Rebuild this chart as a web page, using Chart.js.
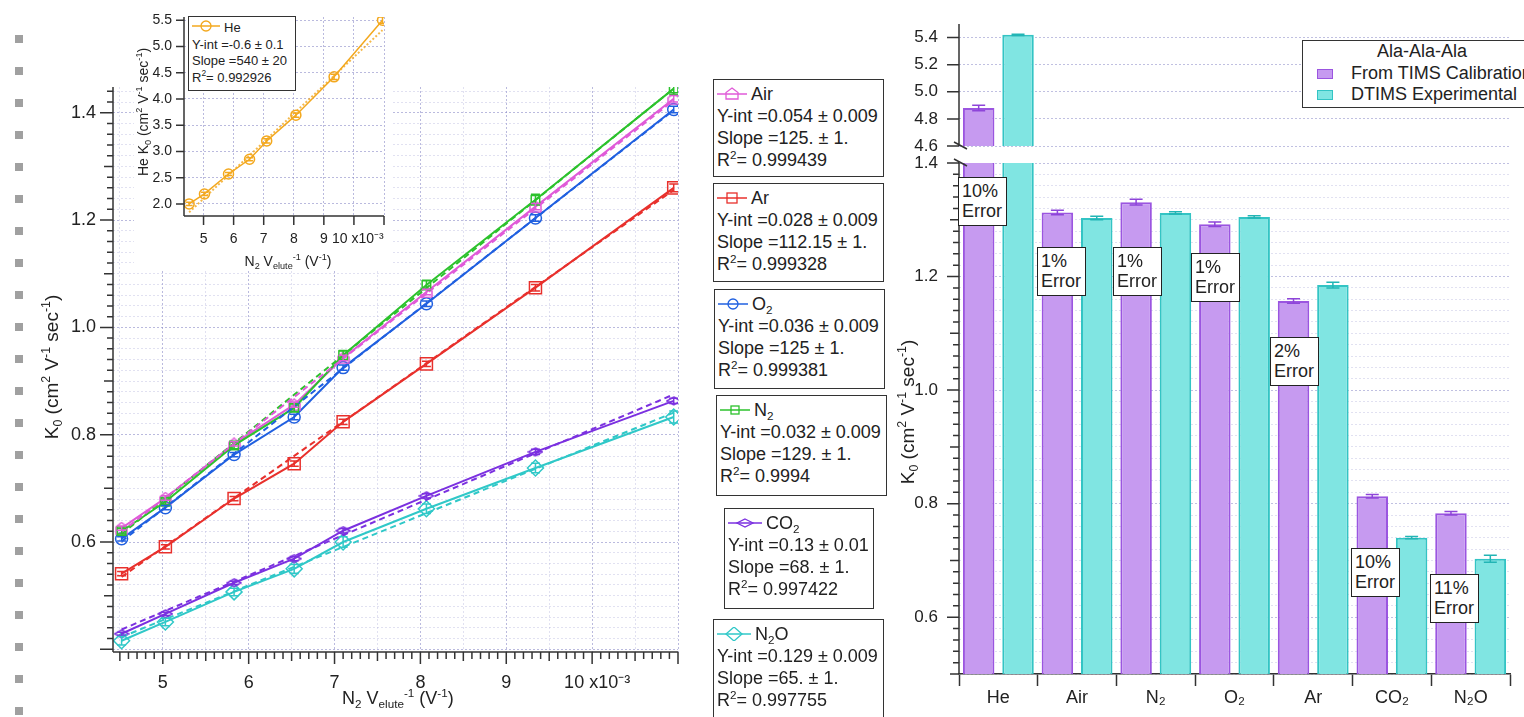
<!DOCTYPE html>
<html>
<head>
<meta charset="utf-8">
<title>K0 vs N2 Velute-1 / Ala-Ala-Ala</title>
<script src="https://cdn.jsdelivr.net/npm/chart.js@4.4.1/dist/chart.umd.min.js"></script>
<style>
  html, body { margin: 0; padding: 0; }
  body { width: 1524px; height: 717px; overflow: hidden; background: #fff; position: relative;
         font-family: "Liberation Sans", Arial, sans-serif; color: #222; }
  canvas { position: absolute; }
  .sq { position: absolute; left: 15px; width: 8px; height: 8px; background: #a0a0a0; }
  .title { position: absolute; white-space: nowrap; text-align: center; }
  .rot { transform: rotate(-90deg); }
  sub, sup { font-size: 0.65em; line-height: 0; position: relative; vertical-align: baseline; }
  sup { top: -0.62em; }
  sub { top: 0.3em; }
  .fit { position: absolute; border: 1.5px solid #333; background: #fff; box-sizing: border-box;
         font-size: 18px; line-height: 22px; padding: 3px 3px; white-space: nowrap; overflow: hidden; }
  .fit svg { vertical-align: -1px; margin-right: 4px; }
  .heBox { font-size: 13px; line-height: 16.5px; padding: 2px 3px; }
  .note { position: absolute; width: 49px; height: 49px; border: 1.5px solid #222; background: #fff;
          box-sizing: border-box; font-size: 18px; line-height: 20px; padding: 3px 0 0 3px; }
  #barLegend { position: absolute; left: 1302px; top: 40px; width: 240px; height: 68px; border: 1.5px solid #333;
               background: #fff; box-sizing: border-box; font-size: 18px; line-height: 21.5px; white-space: nowrap; }
  #barLegend .head { text-align: center; }
  #barLegend .row { padding-left: 14px; }
  #barLegend .sw { display: inline-block; width: 16px; height: 10px; box-sizing: border-box; border: 1.5px solid; margin-right: 18px; }
</style>
</head>
<body>

<div id="squares"></div>

<canvas id="mainChart" width="700" height="717" style="left:0;top:0"></canvas>
<canvas id="heChart" width="265" height="275" style="left:130px;top:0"></canvas>
<canvas id="barTop" width="644" height="160" style="left:880px;top:0"></canvas>
<canvas id="barBottom" width="644" height="567" style="left:880px;top:150px"></canvas>

<!-- axis titles -->
<div class="title rot" style="left:-58px;top:355px;width:220px;height:24px;line-height:24px;font-size:19px">K<sub>0</sub> (cm<sup>2</sup> V<sup>-1</sup> sec<sup>-1</sup>)</div>
<div class="title" style="left:342px;top:688px;font-size:18px;line-height:20px">N<sub>2</sub> V<sub>elute</sub><sup>-1</sup> (V<sup>-1</sup>)</div>
<div class="title rot" style="left:63px;top:103px;width:160px;height:18px;line-height:18px;font-size:14px">He K<sub>0</sub> (cm<sup>2</sup> V<sup>-1</sup> sec<sup>-1</sup>)</div>
<div class="title" style="left:208px;top:253px;width:160px;font-size:14px;line-height:16px">N<sub>2</sub> V<sub>elute</sub><sup>-1</sup> (V<sup>-1</sup>)</div>
<div class="title rot" style="left:798px;top:400px;width:220px;height:24px;line-height:24px;font-size:19px">K<sub>0</sub> (cm<sup>2</sup> V<sup>-1</sup> sec<sup>-1</sup>)</div>

<!-- fit result boxes -->
<div class="fit heBox" style="left:188px;top:16px;width:108px;height:75px">
  <span id="symHe"></span>He<br>Y-int =-0.6 ± 0.1<br>Slope =540 ± 20<br>R<sup>2</sup>= 0.992926
</div>
<div class="fit" style="left:713px;top:79px;width:171px;height:98px">
  <span id="symAir"></span>Air<br>Y-int =0.054 ± 0.009<br>Slope =125. ± 1.<br>R<sup>2</sup>= 0.999439
</div>
<div class="fit" style="left:713px;top:183px;width:171px;height:99px">
  <span id="symAr"></span>Ar<br>Y-int =0.028 ± 0.009<br>Slope =112.15 ± 1.<br>R<sup>2</sup>= 0.999328
</div>
<div class="fit" style="left:714px;top:289px;width:171px;height:100px">
  <span id="symO2"></span>O<sub>2</sub><br>Y-int =0.036 ± 0.009<br>Slope =125 ± 1.<br>R<sup>2</sup>= 0.999381
</div>
<div class="fit" style="left:716px;top:395px;width:171px;height:101px">
  <span id="symN2"></span>N<sub>2</sub><br>Y-int =0.032 ± 0.009<br>Slope =129. ± 1.<br>R<sup>2</sup>= 0.9994
</div>
<div class="fit" style="left:724px;top:508px;width:150px;height:101px">
  <span id="symCO2"></span>CO<sub>2</sub><br>Y-int =0.13 ± 0.01<br>Slope =68. ± 1.<br>R<sup>2</sup>= 0.997422
</div>
<div class="fit" style="left:713px;top:619px;width:171px;height:110px">
  <span id="symN2O"></span>N<sub>2</sub>O<br>Y-int =0.129 ± 0.009<br>Slope =65. ± 1.<br>R<sup>2</sup>= 0.997755
</div>

<!-- bar chart legend and error notes -->
<div id="barLegend">
  <div class="head">Ala-Ala-Ala</div>
  <div class="row"><span class="sw" style="background:#c69af0;border-color:#9b55e0"></span>From TIMS Calibration</div>
  <div class="row"><span class="sw" style="background:#80e5e2;border-color:#33c4c4"></span>DTIMS Experimental</div>
</div>
<div class="note" style="left:958px;top:177px">10%<br>Error</div>
<div class="note" style="left:1037px;top:247px">1%<br>Error</div>
<div class="note" style="left:1113px;top:247px">1%<br>Error</div>
<div class="note" style="left:1191px;top:253px">1%<br>Error</div>
<div class="note" style="left:1270px;top:337px">2%<br>Error</div>
<div class="note" style="left:1351px;top:548px">10%<br>Error</div>
<div class="note" style="left:1430px;top:574px">11%<br>Error</div>

<script>
/* ============================================= */
/*                    Data                       */
/* ============================================= */

// N2 Velute^-1 (x10^-3 V^-1), same for every gas
const xInv = [4.52, 5.03, 5.83, 6.53, 7.10, 8.07, 9.34, 10.95];

const heK0  = [2.00, 2.19, 2.57, 2.85, 3.20, 3.69, 4.42, 5.50];
const heErr = [0.03, 0.03, 0.03, 0.03, 0.04, 0.04, 0.05, 0.06];
const heFit = [1.84, 5.31];

const airK0 = [0.626, 0.682, 0.783, 0.856, 0.943, 1.066, 1.225, 1.426];
const arK0  = [0.541, 0.591, 0.681, 0.746, 0.824, 0.932, 1.074, 1.260];
const o2K0  = [0.606, 0.664, 0.763, 0.833, 0.925, 1.044, 1.204, 1.406];
const n2K0  = [0.620, 0.675, 0.780, 0.850, 0.948, 1.079, 1.238, 1.445];
const co2K0 = [0.429, 0.466, 0.524, 0.569, 0.621, 0.686, 0.768, 0.863];
const n2oK0 = [0.416, 0.451, 0.507, 0.550, 0.600, 0.662, 0.738, 0.833];

const airErr = [0.004, 0.004, 0.004, 0.005, 0.005, 0.005, 0.006, 0.006];
const arErr  = [0.004, 0.004, 0.004, 0.005, 0.005, 0.005, 0.006, 0.007];
const o2Err  = [0.004, 0.004, 0.004, 0.005, 0.005, 0.005, 0.006, 0.006];
const n2Err  = [0.005, 0.005, 0.006, 0.007, 0.009, 0.009, 0.010, 0.011];
const co2Err = [0.003, 0.003, 0.003, 0.004, 0.004, 0.004, 0.005, 0.005];
const n2oErr = [0.008, 0.007, 0.007, 0.008, 0.010, 0.009, 0.009, 0.011];

// dashed linear fits, value at first and last x
const airFit = [0.619, 1.423];
const arFit  = [0.535, 1.256];
const o2Fit  = [0.601, 1.405];
const n2Fit  = [0.615, 1.445];
const co2Fit = [0.437, 0.875];
const n2oFit = [0.423, 0.841];

// bar chart
const gases    = ['He', 'Air', 'N₂', 'O₂', 'Ar', 'CO₂', 'N₂O'];
const timsK0   = [4.88, 1.313, 1.331, 1.292, 1.157, 0.813, 0.783];
const timsErr  = [0.02, 0.004, 0.005, 0.004, 0.004, 0.003, 0.003];
const dtimsK0  = [5.42, 1.303, 1.312, 1.305, 1.185, 0.740, 0.703];
const dtimsErr = [0.005, 0.003, 0.002, 0.002, 0.005, 0.002, 0.006];

/* ============================================= */
/*                  Helpers                      */
/* ============================================= */

Chart.defaults.font.family = "'Liberation Sans', Arial, sans-serif";
Chart.defaults.color = '#222';

const cAir = '#e05ad8', cAr = '#e8302c', cO2 = '#2060e0', cN2 = '#2cc22c';
const cCO2 = '#7b30e0', cN2O = '#30c8c8', cHe = '#f3a81e';
const gridMajor = 'rgba(140,140,200,0.6)';
const gridMinor = 'rgba(170,170,215,0.35)';
const clear = 'rgba(0,0,0,0)';

function isMult(v, step) {
    const r = v / step;
    return Math.abs(r - Math.round(r)) < 1e-6;
}

function xLabel(v) {
    if (!isMult(v, 1) || v < 4.9 || v > 10.1) return '';
    return Math.round(v) === 10 ? '  10 x10⁻³' : String(Math.round(v));
}

// fixed axis size, and no extra room asked for the edge labels
function fixSize(w, h) {
    return s => {
        if (w) s.width = w;
        if (h) s.height = h;
        s.paddingTop = 0; s.paddingBottom = 0; s.paddingLeft = 0; s.paddingRight = 0;
    };
}

// little canvases used as point styles for the odd marker shapes
function marker(color, w, h, path) {
    const c = document.createElement('canvas');
    c.width = w; c.height = h;
    const g = c.getContext('2d');
    g.strokeStyle = color; g.lineWidth = 1.5;
    g.beginPath(); path(g, w, h); g.closePath(); g.stroke();
    return c;
}
const houseMark = marker(cAir, 13, 13, (g, w, h) => {
    g.moveTo(w / 2, 1); g.lineTo(w - 1, h * 0.42); g.lineTo(w - 1, h - 1); g.lineTo(1, h - 1); g.lineTo(1, h * 0.42);
});
const flatDiamond = marker(cCO2, 16, 10, (g, w, h) => {
    g.moveTo(w / 2, 1); g.lineTo(w - 1, h / 2); g.lineTo(w / 2, h - 1); g.lineTo(1, h / 2);
});

function pointSet(vals, errs, color, style, r) {
    return {
        data: xInv.map((x, i) => ({ x, y: vals[i] })),
        errors: errs, capWidth: 9,
        borderColor: color, borderWidth: 2,
        pointStyle: style, pointRadius: r,
        pointBorderColor: color, pointBorderWidth: 1.5, pointBackgroundColor: clear
    };
}

function fitSet(vals, color, dash) {
    return {
        data: [{ x: xInv[0], y: vals[0] }, { x: xInv[xInv.length - 1], y: vals[1] }],
        borderColor: color, borderWidth: 2, borderDash: dash || [6, 4], pointRadius: 0
    };
}

// error bars drawn through the y scale
const errorBars = {
    id: 'errorBars',
    afterDatasetsDraw(chart) {
        const ctx = chart.ctx, a = chart.chartArea, ys = chart.scales.y;
        ctx.save();
        ctx.beginPath();
        ctx.rect(a.left, a.top, a.right - a.left, a.bottom - a.top);
        ctx.clip();
        chart.data.datasets.forEach((ds, i) => {
            if (!ds.errors) return;
            const meta = chart.getDatasetMeta(i);
            ctx.strokeStyle = ds.errColor || ds.borderColor;
            ctx.lineWidth = 1.5;
            meta.data.forEach((el, j) => {
                const d = ds.data[j];
                const val = typeof d === 'object' ? d.y : d;
                const t = ys.getPixelForValue(val + ds.errors[j]);
                const b = ys.getPixelForValue(val - ds.errors[j]);
                const w = ds.capWidth / 2;
                ctx.beginPath();
                ctx.moveTo(el.x, t); ctx.lineTo(el.x, b);
                ctx.moveTo(el.x - w, t); ctx.lineTo(el.x + w, t);
                ctx.moveTo(el.x - w, b); ctx.lineTo(el.x + w, b);
                ctx.stroke();
            });
        });
        ctx.restore();
    }
};

// axis lines, outward major/minor ticks and axis break marks
const axisFrame = {
    id: 'axisFrame',
    afterDraw(chart, args, o) {
        const ctx = chart.ctx, a = chart.chartArea;
        ctx.save();
        ctx.strokeStyle = '#333';
        ctx.lineWidth = 1.5;
        ctx.beginPath();
        if (o.y) {
            const s = chart.scales.y, t = o.y;
            ctx.moveTo(a.left, a.top); ctx.lineTo(a.left, a.bottom);
            for (let k = Math.ceil(s.min / t.step - 1e-6); k * t.step <= s.max + 1e-9; k++) {
                const v = k * t.step, p = s.getPixelForValue(v);
                const len = isMult(v, t.major) ? t.long : (t.mid && isMult(v, t.mid) ? t.midLen : t.short);
                ctx.moveTo(a.left - len, p); ctx.lineTo(a.left, p);
            }
        }
        if (o.x) {
            const s = chart.scales.x, t = o.x;
            ctx.moveTo(a.left, a.bottom); ctx.lineTo(a.right, a.bottom);
            for (let k = Math.ceil(s.min / t.step - 1e-6); k * t.step <= s.max + 1e-9; k++) {
                const v = k * t.step, p = s.getPixelForValue(v);
                const len = isMult(v, t.major) ? t.long : (t.mid && isMult(v, t.mid) ? t.midLen : t.short);
                ctx.moveTo(p, a.bottom); ctx.lineTo(p, a.bottom + len);
            }
        }
        if (o.breakAt) {
            const y = o.breakAt === 'top' ? a.top : a.bottom;
            ctx.moveTo(a.left - 5, y - 4); ctx.lineTo(a.left + 8, y + 3);
        }
        ctx.stroke();
        ctx.restore();
    }
};

const whiteBack = {
    id: 'whiteBack',
    beforeDraw(chart) {
        const a = chart.chartArea, ctx = chart.ctx;
        ctx.save();
        ctx.fillStyle = '#fff';
        ctx.fillRect(4, 0, a.right + 4, a.bottom + 54);
        ctx.restore();
    }
};

const common = {
    responsive: false,
    animation: false,
    devicePixelRatio: 1,
    events: [],
    plugins: { legend: { display: false }, tooltip: { enabled: false } }
};

/* ============================================= */
/*              Main K0 line chart               */
/* ============================================= */

new Chart(document.getElementById('mainChart'), {
    type: 'line',
    data: {
        datasets: [
            fitSet(airFit, cAir), fitSet(arFit, cAr), fitSet(o2Fit, cO2),
            fitSet(n2Fit, cN2), fitSet(co2Fit, cCO2), fitSet(n2oFit, cN2O),
            pointSet(n2K0, n2Err, cN2, 'rect', 6),
            pointSet(airK0, airErr, cAir, houseMark, 7),
            pointSet(o2K0, o2Err, cO2, 'circle', 6),
            pointSet(arK0, arErr, cAr, 'rect', 8.5),
            pointSet(co2K0, co2Err, cCO2, flatDiamond, 7),
            pointSet(n2oK0, n2oErr, cN2O, 'rectRot', 8)
        ]
    },
    options: {
        ...common,
        layout: { padding: { top: 87, right: 22, left: 0, bottom: 0 } },
        plugins: {
            ...common.plugins,
            axisFrame: {
                x: { step: 0.1, major: 1, mid: 0.5, long: 12, midLen: 9, short: 7 },
                y: { step: 0.02, major: 0.2, mid: 0.1, long: 13, midLen: 9, short: 6 }
            }
        },
        scales: {
            x: {
                type: 'linear', min: 4.42, max: 11.0,
                afterFit: fixSize(0, 65),
                ticks: { stepSize: 0.5, includeBounds: false, maxTicksLimit: 1000, autoSkip: false, maxRotation: 0,
                         padding: 20, font: { size: 18 }, callback: xLabel },
                grid: { drawTicks: false, color: c => c.tick && isMult(c.tick.value, 1) ? gridMajor : gridMinor },
                border: { display: false, dash: [2, 2] }
            },
            y: {
                min: 0.395, max: 1.448,
                afterFit: fixSize(113, 0),
                ticks: { stepSize: 0.02, includeBounds: false, maxTicksLimit: 1000, autoSkip: false, padding: 17,
                         font: { size: 18 }, callback: v => isMult(v, 0.2) && v > 0.5 ? v.toFixed(1) : '' },
                grid: { drawTicks: false, color: c => c.tick && isMult(c.tick.value, 0.2) ? gridMajor : gridMinor },
                border: { display: false, dash: [2, 2] }
            }
        }
    },
    plugins: [errorBars, axisFrame]
});

/* ============================================= */
/*                 He inset                      */
/* ============================================= */

const heSet = pointSet(heK0, heErr, cHe, 'circle', 5);
heSet.borderWidth = 1.5;
heSet.capWidth = 7;

new Chart(document.getElementById('heChart'), {
    type: 'line',
    data: { datasets: [fitSet(heFit, 'rgba(243,168,30,0.8)', [2, 2]), heSet] },
    options: {
        ...common,
        layout: { padding: { top: 17, right: 11, left: 0, bottom: 0 } },
        plugins: {
            ...common.plugins,
            axisFrame: {
                x: { step: 1, major: 1, long: 9, short: 9 },
                y: { step: 0.5, major: 0.5, long: 8, short: 8 }
            }
        },
        scales: {
            x: {
                type: 'linear', min: 4.35, max: 11.0,
                afterFit: fixSize(0, 59),
                ticks: { stepSize: 1, includeBounds: false, maxTicksLimit: 1000, autoSkip: false, maxRotation: 0,
                         padding: 15, font: { size: 14 }, callback: xLabel },
                grid: { drawTicks: false, color: c => c.tick && isMult(c.tick.value, 1) ? gridMajor : clear },
                border: { display: false, dash: [2, 2] }
            },
            y: {
                min: 1.77, max: 5.56,
                afterFit: fixSize(54, 0),
                ticks: { stepSize: 0.5, includeBounds: false, maxTicksLimit: 1000, autoSkip: false, padding: 12,
                         font: { size: 14 }, callback: v => isMult(v, 0.5) ? v.toFixed(1) : '' },
                grid: { drawTicks: false, color: c => c.tick && isMult(c.tick.value, 0.5) ? gridMajor : clear },
                border: { display: false, dash: [2, 2] }
            }
        }
    },
    plugins: [whiteBack, errorBars, axisFrame]
});

/* ============================================= */
/*             Bar chart, broken axis            */
/* ============================================= */

function barSets() {
    return [
        { data: timsK0, errors: timsErr, capWidth: 13, backgroundColor: '#c69af0', borderColor: '#9b55e0',
          errColor: '#8e44d9', borderWidth: 2, barPercentage: 0.8, categoryPercentage: 1.0, clip: 0 },
        { data: dtimsK0, errors: dtimsErr, capWidth: 13, backgroundColor: '#80e5e2', borderColor: '#33c4c4',
          errColor: '#22b5b5', borderWidth: 2, barPercentage: 0.8, categoryPercentage: 1.0, clip: 0 }
    ];
}

const barGridY = c => c.tick && isMult(c.tick.value, 0.2) ? 'rgba(140,140,200,0.55)' : 'rgba(170,170,215,0.35)';

new Chart(document.getElementById('barTop'), {
    type: 'bar',
    data: { labels: gases, datasets: barSets() },
    options: {
        ...common,
        layout: { padding: { top: 24, right: 14, left: 0, bottom: 14 } },
        plugins: {
            ...common.plugins,
            axisFrame: { y: { step: 0.2, major: 0.2, long: 12, short: 12 }, breakAt: 'bottom' }
        },
        scales: {
            x: { display: false },
            y: {
                min: 4.6, max: 5.5,
                afterFit: fixSize(79, 0),
                ticks: { stepSize: 0.2, includeBounds: false, maxTicksLimit: 1000, autoSkip: false, padding: 21,
                         font: { size: 17 }, callback: v => isMult(v, 0.2) ? v.toFixed(1) : '' },
                grid: { drawTicks: false, color: c => c.tick && isMult(c.tick.value, 0.2) ? 'rgba(140,140,200,0.55)' : clear },
                border: { display: false, dash: [2, 2] }
            }
        }
    },
    plugins: [errorBars, axisFrame]
});

new Chart(document.getElementById('barBottom'), {
    type: 'bar',
    data: { labels: gases, datasets: barSets() },
    options: {
        ...common,
        layout: { padding: { top: 13, right: 14, left: 0, bottom: 0 } },
        plugins: {
            ...common.plugins,
            axisFrame: { y: { step: 0.02, major: 0.2, mid: 0.1, long: 12, midLen: 9, short: 6 }, breakAt: 'top' }
        },
        scales: {
            x: {
                afterFit: fixSize(0, 43),
                ticks: { font: { size: 18 }, padding: 1, maxRotation: 0 },
                grid: { offset: true, drawOnChartArea: false, drawTicks: true, tickLength: 12,
                        tickColor: '#333', tickWidth: 1.5 },
                border: { display: true, color: '#333', width: 1.5 }
            },
            y: {
                min: 0.5, max: 1.4,
                afterFit: fixSize(79, 0),
                ticks: { stepSize: 0.02, includeBounds: false, maxTicksLimit: 1000, autoSkip: false, padding: 21,
                         font: { size: 17 }, callback: v => isMult(v, 0.2) ? v.toFixed(1) : '' },
                grid: { drawTicks: false, color: barGridY },
                border: { display: false, dash: [2, 2] }
            }
        }
    },
    plugins: [errorBars, axisFrame]
});

/* ============================================= */
/*        Legend symbols and side squares        */
/* ============================================= */

function sym(color, shape, w) {
    w = w || 30;
    const cx = w / 2;
    let m = '';
    if (shape === 'circle') m = `<circle cx="${cx}" cy="7" r="5" fill="none" stroke="${color}" stroke-width="1.3"/>`;
    if (shape === 'rect') m = `<rect x="${cx - 5}" y="2" width="10" height="10" fill="none" stroke="${color}" stroke-width="1.3"/>`;
    if (shape === 'smallRect') m = `<rect x="${cx - 4}" y="3" width="8" height="8" fill="none" stroke="${color}" stroke-width="1.3"/>`;
    if (shape === 'house') m = `<path d="M${cx} 1 L${cx + 6} 5.5 L${cx + 6} 12 L${cx - 6} 12 L${cx - 6} 5.5 Z" fill="none" stroke="${color}" stroke-width="1.3"/>`;
    if (shape === 'flat') m = `<path d="M${cx} 3 L${cx + 8} 7 L${cx} 11 L${cx - 8} 7 Z" fill="none" stroke="${color}" stroke-width="1.3"/>`;
    if (shape === 'diamond') m = `<path d="M${cx} 0 L${cx + 8} 7 L${cx} 14 L${cx - 8} 7 Z" fill="none" stroke="${color}" stroke-width="1.3"/>`;
    return `<svg width="${w}" height="14"><line x1="0" y1="7" x2="${w}" y2="7" stroke="${color}" stroke-width="1.5"/>${m}</svg>`;
}

document.getElementById('symHe').innerHTML = sym(cHe, 'circle', 28);
document.getElementById('symAir').innerHTML = sym(cAir, 'house');
document.getElementById('symAr').innerHTML = sym(cAr, 'rect');
document.getElementById('symO2').innerHTML = sym(cO2, 'circle');
document.getElementById('symN2').innerHTML = sym(cN2, 'smallRect');
document.getElementById('symCO2').innerHTML = sym(cCO2, 'flat', 34);
document.getElementById('symN2O').innerHTML = sym(cN2O, 'diamond', 34);

const squares = document.getElementById('squares');
for (let i = 0; i < 22; i++) {
    const d = document.createElement('div');
    d.className = 'sq';
    d.style.top = (35 + 32 * i) + 'px';
    squares.appendChild(d);
}
</script>
</body>
</html>
